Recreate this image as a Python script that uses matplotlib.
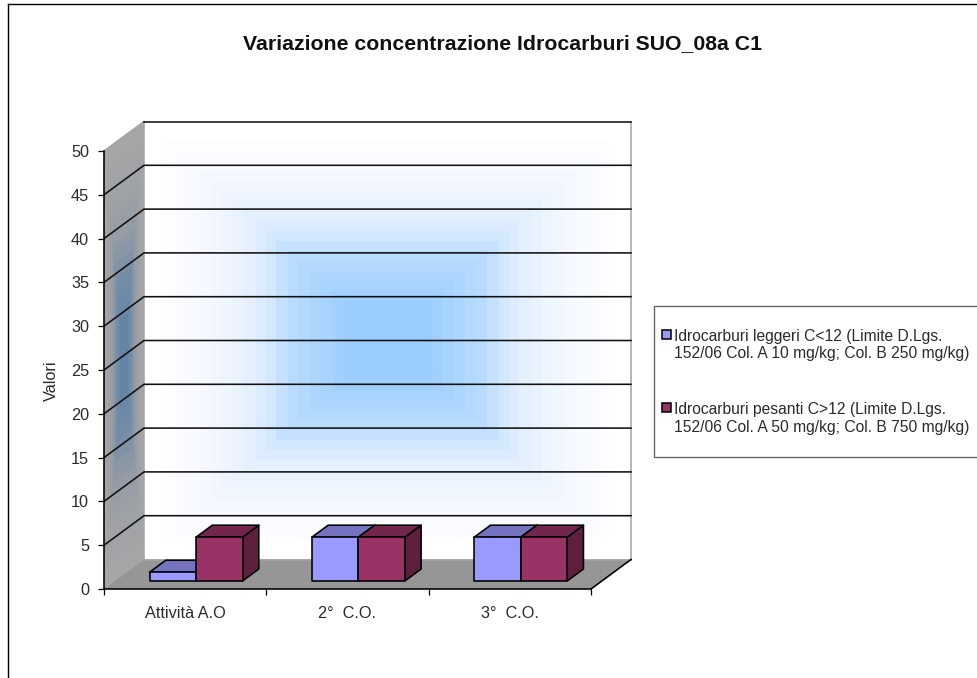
import numpy as np
import matplotlib
matplotlib.use("Agg")
import matplotlib.pyplot as plt
from matplotlib.patches import Polygon, Rectangle, Patch
from matplotlib.lines import Line2D
from matplotlib.colors import to_rgb
from matplotlib.legend_handler import HandlerPatch

plt.rcParams['font.family'] = ['Liberation Sans', 'DejaVu Sans']

categories = ["Attività A.O", "2°  C.O.", "3°  C.O."]
leggeri = [1, 5, 5]
pesanti = [5, 5, 5]
series_names = ["Idrocarburi leggeri C<12 (Limite D.Lgs.\n152/06 Col. A 10 mg/kg; Col. B 250 mg/kg)",
                "Idrocarburi pesanti C>12 (Limite D.Lgs.\n152/06 Col. A 50 mg/kg; Col. B 750 mg/kg)"]
series_colors = ["#9999FF", "#993366"]
y_ticks = list(range(0, 55, 5))
title = "Variazione concentrazione Idrocarburi SUO_08a C1"

W, H = 978, 678
fig = plt.figure(figsize=(W / 100, H / 100), dpi=100, facecolor="white")
L, R, T, B = 104, 591, 151, 589
ax = fig.add_axes([L / W, 1 - B / H, (R - L) / W, (B - T) / H])
ax.patch.set_visible(False)

n = len(categories)
ymax = 50
# oblique depth offset, in data units
DX = 40 / ((R - L) / n)
DY = 29.5 / ((B - T) / ymax)
ax.set_xlim(0, n)
ax.set_ylim(0, ymax)


def proj(x, y, d):
    return x + d * DX, y + d * DY


stops_t = [0.0, 0.14, 0.26, 0.40, 0.46, 0.58, 0.72, 0.86, 0.93, 1.0]
stops_c = np.array([to_rgb(c) for c in ["#99CCFF", "#99CCFF", "#A8D4FF", "#BBDCFF", "#D0E5FD",
                                         "#E6F1FE", "#F3F8FF", "#FBFBFF", "#FFFFFF", "#FFFFFF"]])


def gradient(nu, nv, shade=1.0):
    u = (np.arange(nu) + .5) / nu * 2 - 1
    v = (np.arange(nv) + .5) / nv * 2 - 1
    t = np.maximum(np.abs(u)[None, :], np.abs(v)[:, None])
    t = (np.floor(t * 22) + .5) / 22
    rgb = np.stack([np.interp(t, stops_t, stops_c[:, i]) for i in range(3)], axis=-1)
    return rgb * shade


# back wall
xe = np.linspace(0, n, 241)
ye = np.linspace(0, ymax, 221)
Xg, Yg = np.meshgrid(xe, ye)
bx, by = proj(Xg, Yg, 1)
ax.pcolormesh(bx, by, gradient(240, 220), shading="flat", antialiased=False,
              linewidth=0, clip_on=False, zorder=1)
# side wall
de = np.linspace(0, 1, 41)
Dg, Yg2 = np.meshgrid(de, ye)
sx, sy = proj(0 * Dg, Yg2, Dg)
ax.pcolormesh(sx, sy, gradient(40, 220, shade=0.65), shading="flat", antialiased=False,
              linewidth=0, clip_on=False, zorder=1)
# floor
floor = [proj(0, 0, 0), proj(n, 0, 0), proj(n, 0, 1), proj(0, 0, 1)]
ax.add_patch(Polygon(floor, closed=True, fc="#969696", ec="none", clip_on=False, zorder=1.2))

# walls' edges
GRAY = "#A3A3A3"
for a, b in [((0, ymax, 0), (0, ymax, 1)), ((0, 0, 1), (0, ymax, 1)),
             ((n, 0, 1), (n, ymax, 1)), ((0, 0, 1), (n, 0, 1))]:
    p, q = proj(*a), proj(*b)
    ax.plot([p[0], q[0]], [p[1], q[1]], color=GRAY, lw=1.1, clip_on=False, zorder=1.4)
# grid
for v in y_ticks[1:]:
    xs, ys = zip(proj(0, v, 0), proj(0, v, 1), proj(n, v, 1))
    if v == ymax:
        xs, ys = xs[1:], ys[1:]
    ax.plot(xs, ys, color="#111111", lw=1.15, clip_on=False, zorder=1.5, solid_joinstyle="miter")
p, q = proj(n, 0, 0), proj(n, 0, 1)
ax.plot([p[0], q[0]], [p[1], q[1]], color="black", lw=1.15, clip_on=False, zorder=1.5)

# 3D bars
BW = 46.5 / ((R - L) / n)
D0, D1 = 8 / 29.5, 20 / 29.5


def bar3d(x0, x1, h, color, z):
    c = np.array(to_rgb(color))
    kw = dict(closed=True, ec="black", lw=1.15, joinstyle="round", clip_on=False, zorder=z)
    front = [proj(x0, 0, D0), proj(x1, 0, D0), proj(x1, h, D0), proj(x0, h, D0)]
    top = [proj(x0, h, D0), proj(x1, h, D0), proj(x1, h, D1), proj(x0, h, D1)]
    side = [proj(x1, 0, D0), proj(x1, 0, D1), proj(x1, h, D1), proj(x1, h, D0)]
    ax.add_patch(Polygon(side, fc=c * 0.62, **kw))
    ax.add_patch(Polygon(top, fc=c * 0.75, **kw))
    ax.add_patch(Polygon(front, fc=c, **kw))


for i in range(n):
    c = i + .5
    bar3d(c - BW, c, leggeri[i], series_colors[0], 3 + i * .1)
    bar3d(c, c + BW, pesanti[i], series_colors[1], 3.05 + i * .1)

# axes
for s in ["top", "right"]:
    ax.spines[s].set_visible(False)
for s in ["left", "bottom"]:
    ax.spines[s].set_linewidth(1.15)
    ax.spines[s].set_color("black")
    ax.spines[s].set_zorder(4)
TXT = "#2B2B2B"
FS = 11.7
ax.set_yticks(y_ticks)
ax.set_xticks(np.arange(n + 1))
ax.set_xticklabels([])
ax.set_xticks(np.arange(n) + .5, minor=True)
ax.set_xticklabels(categories, minor=True)
ax.tick_params(axis="x", which="minor", length=0, pad=12, labelsize=FS, labelcolor=TXT)
ax.tick_params(axis="x", which="major", length=4.3, width=0.9)
ax.tick_params(axis="y", length=4.3, width=0.9, pad=6.5, labelsize=FS, labelcolor=TXT)
ax.set_ylabel("Valori", fontsize=FS, color=TXT)
ax.yaxis.set_label_coords((59 - L) / (R - L), (B - 381) / (B - T))

fig.text(503 / W, 1 - 44 / H, title, ha="center", va="center", fontsize=15.3, fontweight="bold", color="#111111")

# legend
LEG_FS = 11.25
fig.add_artist(Rectangle((654.5 / W, 1 - 456.5 / H), 340 / W, 151 / H, transform=fig.transFigure,
                         fc="white", ec="#666666", lw=1, zorder=5))


def first_line_patch(legend, orig_handle, xdescent, ydescent, width, height, fontsize):
    # key aligned with the first line of a two-line label
    return Rectangle((-xdescent, -ydescent + 0.72 * fontsize), width, height)


handles = [Patch(fc=series_colors[0], ec="black", lw=1.1), Patch(fc=series_colors[1], ec="black", lw=1.1)]
leg = fig.legend(handles, series_names, loc="upper left", bbox_to_anchor=(662 / W, 1 - 329 / H),
                 frameon=False, fontsize=LEG_FS, handlelength=0.58, handleheight=0.5, handletextpad=0.2,
                 labelspacing=2.62, borderpad=0, borderaxespad=0, labelcolor=TXT,
                 handler_map={Patch: HandlerPatch(patch_func=first_line_patch)})
leg.set_zorder(6)

# outer chart frame
fig.add_artist(Line2D([8 / W, 1], [1 - 4 / H, 1 - 4 / H], color="black", lw=1, transform=fig.transFigure))
fig.add_artist(Line2D([8 / W, 8 / W], [0, 1 - 4 / H], color="black", lw=1, transform=fig.transFigure))

fig.savefig("out.png", dpi=100)
